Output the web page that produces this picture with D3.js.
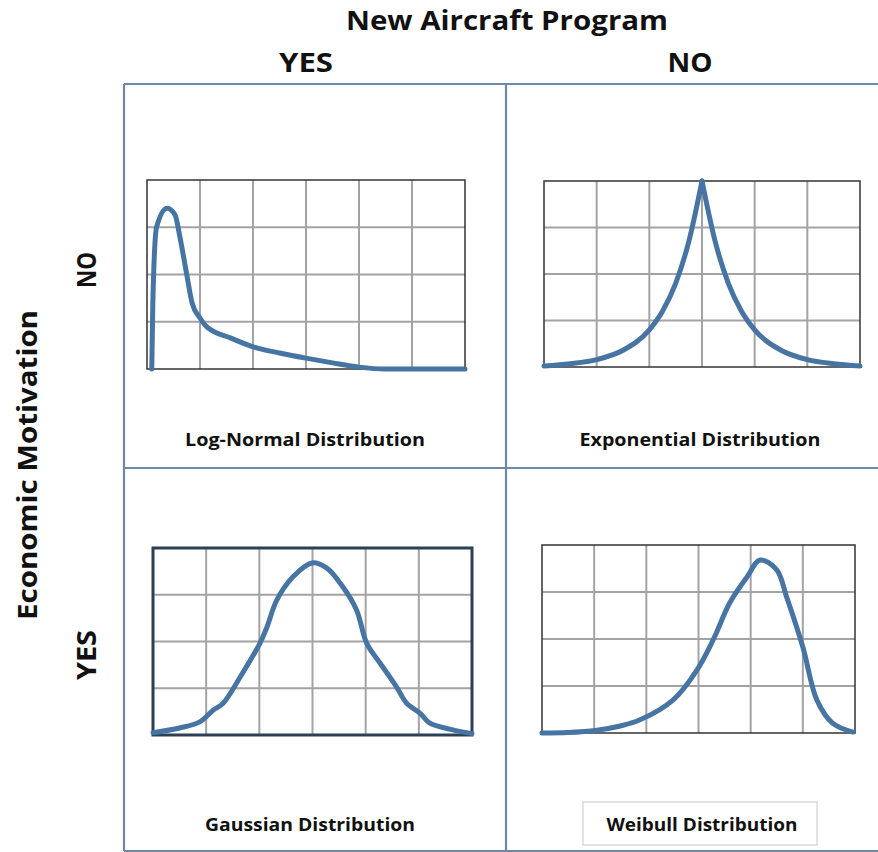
<!DOCTYPE html>
<html><head><meta charset="utf-8">
<script src="https://cdn.jsdelivr.net/npm/d3@7"></script>
<style>body{margin:0;background:#fff}svg{display:block}text{font-family:"Open Sans",Lato,sans-serif;font-weight:bold;fill:#111}</style>
</head><body><svg id="c" width="878" height="852"></svg>
<script>
// ---- data ----
const colLabels = ["YES", "NO"];
const rowLabels = ["NO", "YES"];
const title = "New Aircraft Program";
const sideTitle = "Economic Motivation";
const panelNames = ["Log-Normal Distribution", "Exponential Distribution", "Gaussian Distribution", "Weibull Distribution"];
// grid units: x 0..6, y 0..4
const logNormalX = [0.09,0.11,0.18,0.38,0.53,0.62,0.75,0.85,1.0,1.13,1.57,2.0,2.5,3.0,3.5,4.0,4.5,5.0,6.0];
const logNormalY = [0,1.4,3.0,3.4,3.26,2.8,2.0,1.4,1.08,0.89,0.66,0.47,0.34,0.23,0.13,0.04,0.0,0,0];
const expX = [0,0.5,1,1.5,2,2.25,2.5,2.75,3,3.25,3.5,3.75,4,4.5,5,5.5,6];
const expY = [0.02,0.07,0.16,0.36,0.8,1.2,1.8,2.7,4.0,2.7,1.8,1.2,0.8,0.36,0.16,0.07,0.02];
const gaussX = [0,0.5,0.88,1.13,1.32,1.64,2.01,2.14,2.33,2.63,2.99,3.27,3.57,3.83,4.02,4.27,4.58,4.77,5.02,5.2,5.6,6.0];
const gaussY = [0.05,0.15,0.28,0.53,0.68,1.24,1.96,2.3,2.89,3.38,3.68,3.57,3.17,2.67,1.96,1.54,1.03,0.68,0.47,0.26,0.12,0.03];
const weibX = [0,0.5,1.05,1.5,1.88,2.51,2.97,3.28,3.6,3.93,4.18,4.5,4.69,5.0,5.27,5.57,5.96];
const weibY = [0,0.01,0.06,0.15,0.28,0.7,1.34,1.98,2.77,3.32,3.68,3.47,2.89,1.83,0.7,0.21,0.02];

const svg = d3.select("#c");
const lineCol = "#7088a3";
const curveCol = "#4674a3";

function fitText(sel, w){ // squeeze/stretch text to a measured width
  sel.attr("textLength", w).attr("lengthAdjust","spacingAndGlyphs");
  return sel;
}

// outer quadrant lines
const gx = d3.scaleLinear().domain([0,1,2]).range([124,506,878]);
const gy = d3.scaleLinear().domain([0,1,2]).range([84,468,851]);
const og = svg.append("g").attr("stroke", lineCol).attr("stroke-width", 2.2).attr("fill","none");
og.append("line").attr("x1",gx(0)).attr("x2",gx(2)).attr("y1",gy(0)).attr("y2",gy(0));
og.append("line").attr("x1",gx(0)).attr("x2",gx(2)).attr("y1",gy(1)).attr("y2",gy(1));
og.append("line").attr("x1",gx(0)).attr("x2",gx(2)).attr("y1",gy(2)).attr("y2",gy(2));
og.append("line").attr("x1",gx(0)).attr("x2",gx(0)).attr("y1",gy(0)).attr("y2",gy(2));
og.append("line").attr("x1",gx(1)).attr("x2",gx(1)).attr("y1",gy(0)).attr("y2",gy(2));

// titles
fitText(svg.append("text").attr("x",507).attr("y",30).attr("text-anchor","middle").attr("font-size",26).text(title), 322);
const colC = [306, 690], colW = [54, 45];
colLabels.forEach((t,i)=>fitText(svg.append("text").attr("x",colC[i]).attr("y",72).attr("text-anchor","middle").attr("font-size",26).text(t), colW[i]));
fitText(svg.append("text").attr("transform","translate(37,465) rotate(-90)").attr("text-anchor","middle").attr("font-size",26).text(sideTitle), 310);
const rowC = [270, 655], rowW = [36, 50];
rowLabels.forEach((t,i)=>fitText(svg.append("text").attr("transform",`translate(96,${rowC[i]}) rotate(-90)`).attr("text-anchor","middle").attr("font-size",26).text(t), rowW[i]));

// panels
const panels = [
  {x0:147,x1:465,y0:180,y1:369, xs:logNormalX, ys:logNormalY, curve:d3.curveMonotoneX, border:"#333", bw:1.5, split:null},
  {x0:544,x1:860,y0:181,y1:367, xs:expX, ys:expY, curve:d3.curveMonotoneX, border:"#333", bw:1.5, split:3},
  {x0:153,x1:472,y0:548,y1:735, xs:gaussX, ys:gaussY, curve:d3.curveCatmullRom, border:"#2b3f55", bw:3, split:null},
  {x0:542,x1:855,y0:545,y1:733, xs:weibX, ys:weibY, curve:d3.curveCatmullRom, border:"#333", bw:1.5, split:null}
];
const labelPos = [[305,446],[700,446],[310,831],[702,831]];
const labelW = [240, 241, 210, 191];

panels.forEach((p,i)=>{
  const x = d3.scaleLinear().domain([0,6]).range([p.x0,p.x1]);
  const y = d3.scaleLinear().domain([0,4]).range([p.y1,p.y0]);
  const g = svg.append("g");
  g.append("rect").attr("x",p.x0).attr("y",p.y0).attr("width",p.x1-p.x0).attr("height",p.y1-p.y0).attr("fill","#fff");
  const grid = g.append("g").attr("stroke","#a3a3a3").attr("stroke-width",2);
  d3.range(1,6).forEach(v=>grid.append("line").attr("x1",x(v)).attr("x2",x(v)).attr("y1",p.y0).attr("y2",p.y1));
  d3.range(1,4).forEach(v=>grid.append("line").attr("y1",y(v)).attr("y2",y(v)).attr("x1",p.x0).attr("x2",p.x1));
  g.append("rect").attr("x",p.x0).attr("y",p.y0).attr("width",p.x1-p.x0).attr("height",p.y1-p.y0)
    .attr("fill","none").attr("stroke",p.border).attr("stroke-width",p.bw);
  const pts = p.xs.map((v,k)=>[v,p.ys[k]]);
  const line = d3.line().x(d=>x(d[0])).y(d=>y(d[1])).curve(p.curve);
  const segs = p.split==null ? [pts] : [pts.filter(d=>d[0]<=p.split), pts.filter(d=>d[0]>=p.split)];
  segs.forEach(s=>g.append("path").attr("d",line(s)).attr("fill","none").attr("stroke",curveCol)
    .attr("stroke-width",5).attr("stroke-linejoin","round").attr("stroke-linecap","round"));
  if(i===3){
    svg.append("rect").attr("x",583).attr("y",802).attr("width",234).attr("height",43).attr("fill","#fff").attr("stroke","#c8c8c8").attr("stroke-width",1);
  }
  fitText(svg.append("text").attr("x",labelPos[i][0]).attr("y",labelPos[i][1]).attr("text-anchor","middle").attr("font-size",17).text(panelNames[i]), labelW[i]);
});
</script></body></html>
